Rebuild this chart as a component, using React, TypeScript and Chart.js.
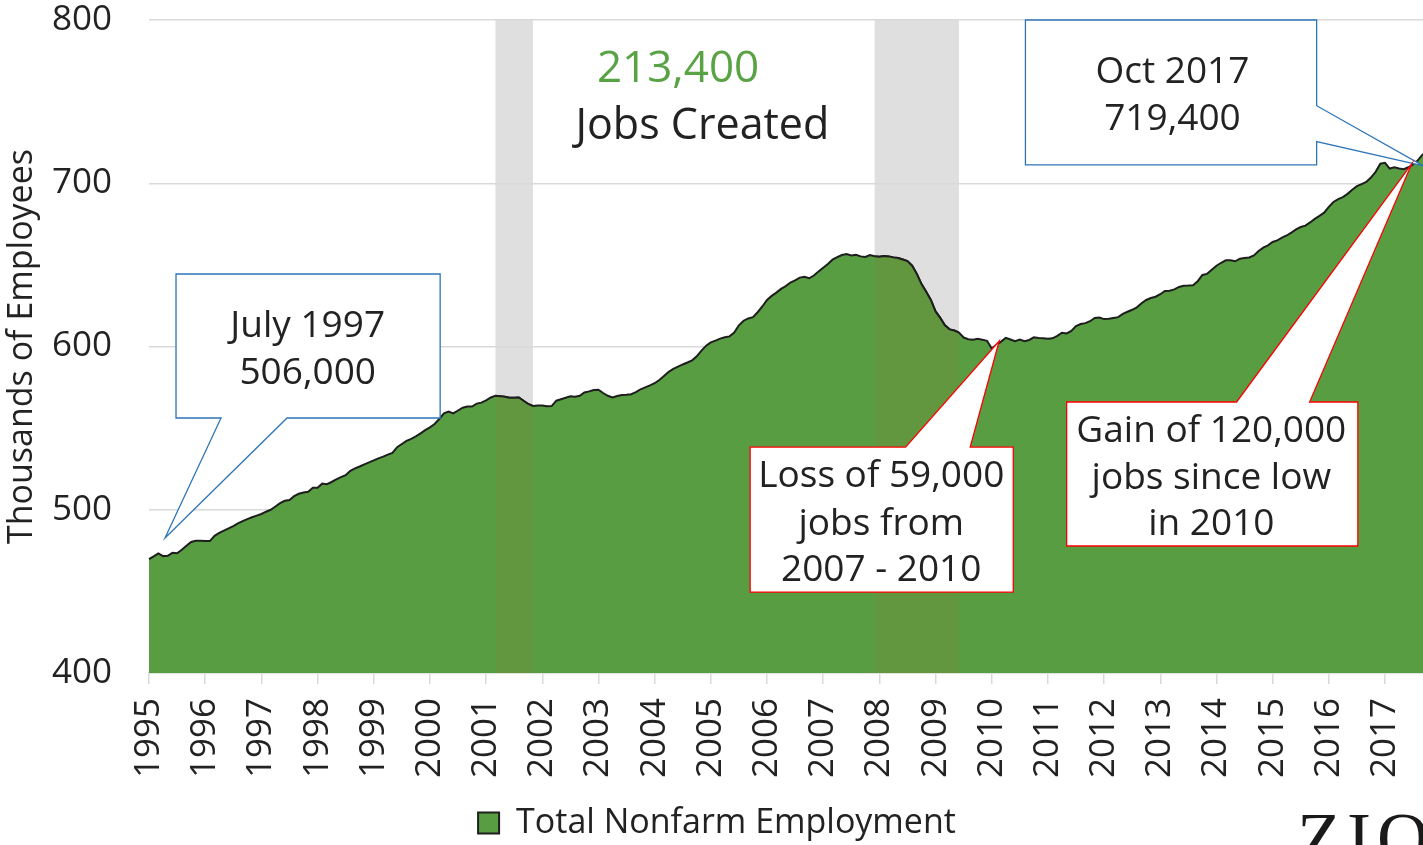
import React, { useEffect, useRef } from 'react';
import { Chart, registerables } from 'chart.js';

Chart.register(...registerables);

const MONTHS = ['Jan', 'Feb', 'Mar', 'Apr', 'May', 'Jun', 'Jul', 'Aug', 'Sep', 'Oct', 'Nov', 'Dec'];
const YEARS = [1995, 1996, 1997, 1998, 1999, 2000, 2001, 2002, 2003, 2004, 2005, 2006, 2007, 2008, 2009, 2010, 2011, 2012, 2013, 2014, 2015, 2016, 2017];

// Total nonfarm employment, thousands, monthly
const v1995 = [469.8, 471.5, 473.3, 471.6, 471.8, 473.6, 473.3, 475.5, 478.0, 480.3, 481.0, 481.0];
const v1996 = [480.8, 480.8, 484.0, 485.8, 487.2, 488.6, 490.0, 491.6, 493.0, 494.3, 495.4, 496.4];
const v1997 = [497.4, 498.8, 500.0, 502.0, 504.0, 505.5, 506.0, 508.3, 509.8, 510.6, 511.0, 513.5];
const v1998 = [513.5, 516.0, 515.7, 517.0, 518.6, 520.0, 521.2, 523.9, 525.3, 526.5, 527.8, 529.0];
const v1999 = [530.2, 531.5, 532.5, 533.8, 534.8, 538.3, 540.3, 542.2, 543.4, 545.0, 546.8, 548.8];
const v2000 = [550.5, 552.5, 555.6, 559.0, 560.2, 559.0, 560.8, 562.5, 563.3, 563.2, 565.0, 565.6];
const v2001 = [567.0, 568.8, 569.8, 569.6, 569.2, 568.6, 568.6, 568.8, 566.8, 564.8, 563.6, 563.8];
const v2002 = [563.8, 563.4, 563.5, 566.8, 567.7, 568.6, 569.5, 569.2, 569.8, 571.8, 572.5, 573.3];
const v2003 = [573.5, 571.5, 569.8, 568.8, 569.7, 570.3, 570.4, 570.8, 572.0, 573.8, 575.0, 576.2];
const v2004 = [577.5, 579.5, 582.0, 584.5, 586.3, 587.7, 589.0, 590.2, 591.5, 594.0, 597.5, 600.5];
const v2005 = [602.5, 603.6, 604.8, 605.7, 606.2, 608.5, 613.0, 615.8, 617.2, 618.0, 621.0, 624.5];
const v2006 = [628.5, 631.0, 633.0, 635.3, 637.0, 639.2, 640.5, 642.2, 642.7, 641.8, 643.5, 646.0];
const v2007 = [648.2, 650.5, 653.2, 654.8, 656.0, 656.6, 655.8, 656.2, 655.2, 654.8, 656.0, 655.3];
const v2008 = [655.0, 655.5, 655.2, 654.6, 654.2, 653.3, 652.3, 649.5, 644.5, 638.2, 633.5, 628.5];
const v2009 = [621.5, 617.5, 613.0, 610.5, 609.8, 608.5, 605.5, 604.5, 604.2, 604.7, 604.2, 603.5];
const v2010 = [598.8, 601.0, 603.0, 605.3, 604.3, 603.2, 604.3, 603.3, 604.0, 605.6, 605.2, 605.0];
const v2011 = [604.8, 605.0, 606.5, 608.4, 608.0, 609.5, 612.5, 613.8, 614.3, 615.5, 617.5, 617.8];
const v2012 = [616.8, 617.0, 617.5, 618.0, 620.0, 621.3, 622.5, 624.0, 626.5, 628.5, 629.7, 630.5];
const v2013 = [632.0, 634.0, 634.2, 635.0, 636.5, 637.2, 637.3, 637.5, 640.0, 643.8, 644.5, 647.0];
const v2014 = [649.5, 651.3, 652.8, 652.8, 652.2, 653.8, 654.2, 654.5, 655.8, 658.5, 660.6, 662.0];
const v2015 = [664.0, 665.0, 666.7, 668.0, 669.8, 671.7, 673.2, 674.0, 676.0, 678.2, 680.0, 682.0];
const v2016 = [685.5, 688.5, 690.3, 691.5, 693.5, 696.0, 698.2, 699.5, 700.8, 703.5, 707.0, 712.0];
const v2017 = [712.5, 709.0, 709.8, 709.0, 708.6, 709.8, 711.5, 714.0, 717.5, 719.4];

const SERIES = [v1995, v1996, v1997, v1998, v1999, v2000, v2001, v2002, v2003, v2004, v2005, v2006,
  v2007, v2008, v2009, v2010, v2011, v2012, v2013, v2014, v2015, v2016, v2017];

const recessionStart = ['Mar 2001', 'Dec 2007'];
const recessionEnd = ['Nov 2001', 'Jun 2009'];

const Y_TICKS = [400, 500, 600, 700, 800];
const SERIES_NAME = 'Total Nonfarm Employment';
const Y_TITLE = 'Thousands of Employees';

const headlineNumber = '213,400';
const headlineText = 'Jobs Created';

const labels: string[] = [];
const values: number[] = [];
SERIES.forEach((arr, yi) => {
  arr.forEach((v, m) => {
    labels.push(`${MONTHS[m]} ${YEARS[yi]}`);
    values.push(v);
  });
});

const bandIdx = recessionStart.map((s, i) => [labels.indexOf(s), labels.indexOf(recessionEnd[i])]);

// callouts in data space: x = month index, y = value
const callouts = [
  { lines: ['July 1997', '506,000'], color: '#2e75b6', box: [5.77, 644.4, 62.19, 556.2], side: 'bottom', base: [15.39, 29.49], tip: [3.42, 482.7], textX: 33.9, textY: [613.8, 585.0] },
  { lines: ['Oct 2017', '719,400'], color: '#2e75b6', box: [187.2, 800, 249.4, 711.2], side: 'right', base: [747.5, 725.5], tip: [272.2, 710.6], textX: 218.6, textY: [769.4, 740.6] },
  { lines: ['Loss of 59,000', 'jobs from', '2007 - 2010'], color: '#ff0000', box: [128.4, 538.4, 184.6, 449.6], side: 'top', base: [161.6, 175.4], tip: [181.6, 603.4], textX: 156.4, textY: [521.9, 492.5, 464.3] },
  { lines: ['Gain of 120,000', 'jobs since low', 'in 2010'], color: '#ff0000', box: [196.0, 566.0, 258.2, 477.8], side: 'top', base: [232.3, 247.9], tip: [269.7, 711.8], textX: 226.9, textY: [549.5, 520.7, 492.5] },
];

const AREA_GREEN = '#599d43';
const BAND_GREEN = '#62963f';
const BAND_GRAY = '#dfdfdf';
const LINE_COLOR = '#1e1e1e';
const TEXT = '#222222';
const FONT = "'Open Sans'";

const overlayPlugin = {
  id: 'overlay',
  beforeDraw(chart: any) {
    const { ctx, chartArea, scales } = chart;
    const x = scales.x;
    ctx.save();
    ctx.fillStyle = BAND_GRAY;
    bandIdx.forEach(([a, b]) => {
      const x0 = x.getPixelForValue(a);
      const x1 = x.getPixelForValue(b);
      ctx.fillRect(x0, chartArea.top, x1 - x0, chartArea.bottom - chartArea.top);
    });
    ctx.restore();
  },
  afterDatasetsDraw(chart: any) {
    const { ctx, chartArea } = chart;
    const pts = chart.getDatasetMeta(0).data;
    bandIdx.forEach(([a, b]) => {
      const x0 = pts[a].x;
      const x1 = pts[b].x;
      ctx.save();
      ctx.beginPath();
      ctx.rect(x0, chartArea.top, x1 - x0, chartArea.bottom - chartArea.top);
      ctx.clip();
      ctx.beginPath();
      ctx.moveTo(pts[a].x, chartArea.bottom);
      for (let i = a; i <= b; i++) ctx.lineTo(pts[i].x, pts[i].y);
      ctx.lineTo(pts[b].x, chartArea.bottom);
      ctx.closePath();
      ctx.fillStyle = BAND_GREEN;
      ctx.fill();
      ctx.beginPath();
      const s = Math.max(a - 1, 0);
      const e = Math.min(b + 1, pts.length - 1);
      ctx.moveTo(pts[s].x, pts[s].y);
      for (let i = s + 1; i <= e; i++) ctx.lineTo(pts[i].x, pts[i].y);
      ctx.strokeStyle = LINE_COLOR;
      ctx.lineWidth = 2;
      ctx.lineJoin = 'miter';
      ctx.stroke();
      ctx.restore();
    });
  },
  afterDraw(chart: any) {
    const { ctx, scales } = chart;
    const x = scales.x;
    const y = scales.y;
    const px = (v: number) => x.getPixelForValue(v);
    const py = (v: number) => y.getPixelForValue(v);
    ctx.save();
    callouts.forEach((c) => {
      const L = px(c.box[0]), T = py(c.box[1]), R = px(c.box[2]), B = py(c.box[3]);
      const tx = px(c.tip[0]), ty = py(c.tip[1]);
      ctx.beginPath();
      if (c.side === 'bottom') {
        const b1 = px(c.base[0]), b2 = px(c.base[1]);
        ctx.moveTo(L, T); ctx.lineTo(R, T); ctx.lineTo(R, B); ctx.lineTo(b2, B);
        ctx.lineTo(tx, ty); ctx.lineTo(b1, B); ctx.lineTo(L, B); ctx.closePath();
      } else if (c.side === 'top') {
        const b1 = px(c.base[0]), b2 = px(c.base[1]);
        ctx.moveTo(L, T); ctx.lineTo(b1, T); ctx.lineTo(tx, ty); ctx.lineTo(b2, T);
        ctx.lineTo(R, T); ctx.lineTo(R, B); ctx.lineTo(L, B); ctx.closePath();
      } else {
        const n1 = py(c.base[0]), n2 = py(c.base[1]);
        ctx.moveTo(L, T); ctx.lineTo(R, T); ctx.lineTo(R, n1); ctx.lineTo(tx, ty);
        ctx.lineTo(R, n2); ctx.lineTo(R, B); ctx.lineTo(L, B); ctx.closePath();
      }
      ctx.fillStyle = '#ffffff';
      ctx.fill();
      ctx.strokeStyle = c.color;
      ctx.lineWidth = 1.3;
      ctx.lineJoin = 'miter';
      ctx.stroke();
      const fs = 37;
      ctx.font = `${fs}px ${FONT}`;
      ctx.fillStyle = TEXT;
      ctx.textAlign = 'center';
      ctx.textBaseline = 'alphabetic';
      c.lines.forEach((t, i) => {
        ctx.fillText(t, px(c.textX), py(c.textY[i]) + fs * 0.357);
      });
    });
    ctx.textAlign = 'center';
    ctx.textBaseline = 'alphabetic';
    ctx.font = `44px ${FONT}`;
    ctx.fillStyle = '#5aa345';
    ctx.fillText(headlineNumber, px(113.0), py(771.8) + 44 * 0.357);
    ctx.font = `43px ${FONT}`;
    ctx.fillStyle = TEXT;
    ctx.fillText(headlineText, px(118.2), py(736.3) + 43 * 0.357);
    ctx.restore();
  },
};

export default function App() {
  const ref = useRef<HTMLCanvasElement>(null);
  useEffect(() => {
    const canvas = ref.current;
    if (!canvas) return;
    const chart = new Chart(canvas, {
      type: 'line',
      data: {
        labels,
        datasets: [
          {
            label: SERIES_NAME,
            data: values,
            borderColor: LINE_COLOR,
            borderWidth: 2,
            backgroundColor: AREA_GREEN,
            fill: 'start',
            pointRadius: 0,
            tension: 0,
          } as any,
        ],
      },
      options: {
        responsive: false,
        animation: false,
        devicePixelRatio: 1,
        layout: { padding: { top: 20, right: 0, left: 0, bottom: 0 } },
        plugins: {
          tooltip: { enabled: false },
          legend: {
            position: 'bottom',
            labels: {
              boxWidth: 21,
              boxHeight: 21,
              padding: 10,
              color: TEXT,
              font: { family: FONT, size: 34 },
            },
          },
        },
        scales: {
          x: {
            type: 'category',
            offset: false,
            grid: { display: true, drawOnChartArea: false, drawTicks: true, tickLength: 11, color: '#d9d9d9', lineWidth: 1.5 },
            border: { display: true, color: '#d9d9d9', width: 1.5 },
            ticks: {
              autoSkip: false,
              maxRotation: 90,
              minRotation: 90,
              padding: 14,
              color: TEXT,
              font: { family: FONT, size: 35, lineHeight: 1 },
              callback: (_v: any, i: number) => (i % 12 === 0 ? String(YEARS[i / 12]) : null),
            },
            afterFit: (s: any) => { s.height = 123; },
          },
          y: {
            min: Y_TICKS[0],
            max: Y_TICKS[Y_TICKS.length - 1],
            grid: { color: '#d9d9d9', drawTicks: true, tickLength: 37, tickColor: 'rgba(0,0,0,0)', lineWidth: 1.5 },
            border: { display: false },
            ticks: {
              stepSize: 100,
              padding: 0,
              color: TEXT,
              font: { family: FONT, size: 35, lineHeight: 1 },
            },
            title: {
              display: true,
              text: Y_TITLE,
              color: TEXT,
              font: { family: FONT, size: 34, lineHeight: 1.2 },
              padding: { top: 2, bottom: 0 },
            },
            afterFit: (s: any) => { s.width = 149; },
          },
        },
      } as any,
      plugins: [overlayPlugin],
    });
    return () => chart.destroy();
  }, []);

  return (
    <div style={{ position: 'fixed', left: 0, top: 0, width: 1423, height: 845, overflow: 'hidden', background: '#ffffff' }}>
      <canvas ref={ref} width={1434} height={850} style={{ display: 'block', width: 1434, height: 850 }} />
      <div
        style={{
          position: 'absolute', left: 1297, top: 802, fontFamily: "'Liberation Serif', serif",
          fontSize: 72, lineHeight: '72px', letterSpacing: 6, color: '#1a1a1a', whiteSpace: 'nowrap',
        }}
      >
        ZIONS
      </div>
    </div>
  );
}
